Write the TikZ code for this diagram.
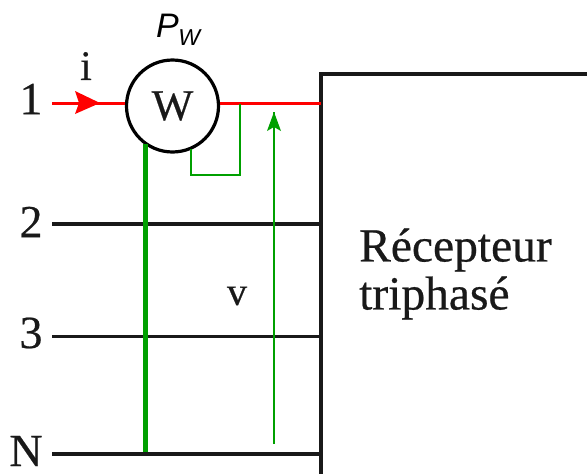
\documentclass[tikz,border=0pt]{standalone}
\usepackage{fontspec}
\setmainfont[FakeBold=0.5]{Liberation Serif}
\newfontfamily\labelsans{Liberation Sans}
\definecolor{wire}{RGB}{0,160,0}
\definecolor{phase}{RGB}{255,0,0}
\tikzset{
  x=1pt,y=-1pt,
  blackline/.style={line width=3.2pt,black!90},
  greenthick/.style={line width=4.2pt,wire},
  greenthin/.style={line width=2.5pt,wire},
  redline/.style={line width=3pt,phase},
  lbl/.style={inner sep=0pt,font=\fontsize{#1}{#1}\selectfont,text=black!90},
  lbl/.default=46
}
\begin{document}
\begin{tikzpicture}
\useasboundingbox (0,0) rectangle (587,474);
% terminals
\coordinate (s1) at (52,103);
\coordinate (s2) at (52,224);
\coordinate (s3) at (52,336.5);
\coordinate (sN) at (52,454);
\coordinate (e1) at (321,103);
\coordinate (e2) at (321,224);
\coordinate (e3) at (321,336.5);
\coordinate (eN) at (321,454);
\coordinate (boxTL) at (321,74);
\coordinate (boxTR) at (587,74);
\coordinate (boxBL) at (321,474);
% lines
\draw[blackline] (s2) -- (e2);
\draw[blackline] (s3) -- (e3);
\draw[blackline] (sN) -- (eN);
\draw[blackline] (boxTR) -- (boxTL) -- (boxBL);
\node[circle,draw=black,line width=3.2pt,fill=white,minimum size=92pt,inner sep=0pt] (w) at (172.5,106) {};
\node[lbl=44] at (172.5,106) {W};
\draw[redline] (s1) -- (w.west |- s1);
\draw[redline] (w.east |- e1) -- (e1);
\fill[phase] (100,103) -- (75,91) -- (79,103) -- (75,114) -- cycle;
% green wires
\coordinate (gt) at (145.5,144);
\coordinate (gb) at (145.5,452);
\coordinate (c1) at (191,149);
\coordinate (c2) at (191,175);
\coordinate (c3) at (240,175);
\coordinate (c4) at (240,104);
\coordinate (vb) at (274,444);
\coordinate (vt) at (274,112);
\draw[greenthick] (gt) -- (gb);
\draw[greenthin] (c1) -- (c2) -- (c3) -- (c4);
\draw[greenthin] (vb) -- (vt);
\fill[wire] (vt) -- (281,131) -- (274,127) -- (267,131) -- cycle;
% labels
\node[lbl] (n1) at (31,99) {1};
\node[lbl] (n2) at (31,222) {2};
\node[lbl] (n3) at (31,333) {3};
\node[lbl] (nN) at (26,451) {N};
\node[lbl=42] (li) at (86,66) {i};
\node[lbl=40] (lv) at (237,296) {v};
\node[lbl=47.5,anchor=west] (t1) at (359,250) {Récepteur};
\node[lbl=47.5,anchor=west] (t2) at (359,298) {triphasé};
\node[inner sep=0pt,anchor=base west,text=black] (pw) at (156,37) {\labelsans\itshape\fontsize{34}{34}\selectfont P\hspace{-0.5pt}\raisebox{-8pt}{\fontsize{23}{23}\selectfont W}};
\end{tikzpicture}
\end{document}
